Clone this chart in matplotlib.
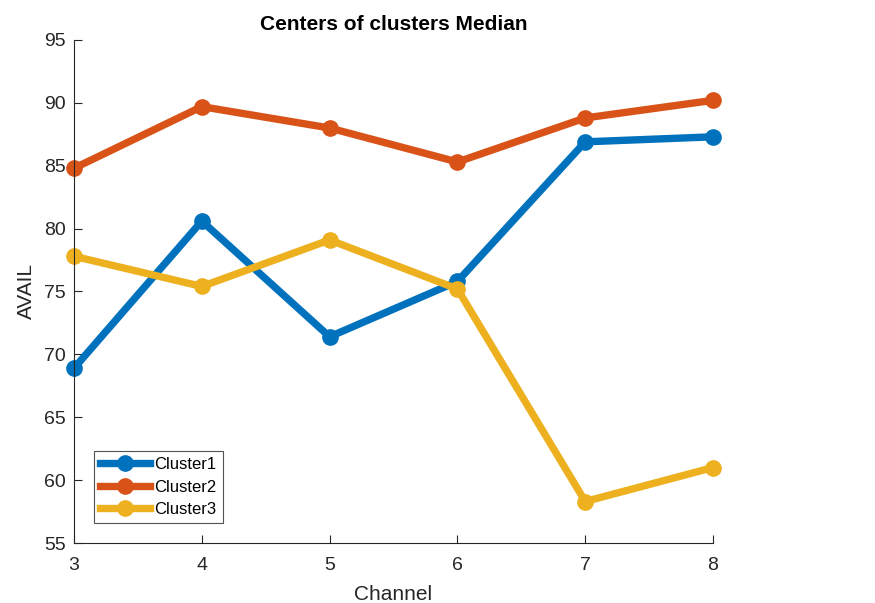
import matplotlib
matplotlib.use("Agg")
import matplotlib.pyplot as plt

channels = [3, 4, 5, 6, 7, 8]
cluster1 = [68.9, 80.6, 71.4, 75.8, 86.9, 87.3]
cluster2 = [84.8, 89.7, 88.0, 85.3, 88.8, 90.2]
cluster3 = [77.8, 75.4, 79.1, 75.2, 58.3, 61.0]
series_names = ["Cluster1", "Cluster2", "Cluster3"]
colors = ["#0072BD", "#D95319", "#EDB120"]
y_ticks = [55, 60, 65, 70, 75, 80, 85, 90, 95]

plt.rcParams["font.family"] = ["Liberation Sans", "DejaVu Sans"]

fig = plt.figure(figsize=(8.75, 6.03), dpi=100)
ax = fig.add_axes([0.0846, 0.0995, 0.7303, 0.8342])

for vals, name, c in zip([cluster1, cluster2, cluster3], series_names, colors):
    ax.plot(channels, vals, color=c, lw=5.3, marker="o", ms=11,
            markerfacecolor=c, markeredgecolor=c, label=name, clip_on=False)

ax.set_xlim(3, 8)
ax.set_ylim(55, 95)
ax.set_xticks(channels)
ax.set_yticks(y_ticks)
ax.spines["top"].set_visible(False)
ax.spines["right"].set_visible(False)
for s in ("left", "bottom"):
    ax.spines[s].set_color("#262626")
    ax.spines[s].set_linewidth(0.8)
ax.tick_params(direction="in", length=6, width=0.8, colors="#262626",
               labelsize=14)
ax.tick_params(axis="x", pad=10)
ax.tick_params(axis="y", pad=6)
ax.set_xlabel("Channel", fontsize=15, color="#262626", labelpad=8)
ax.set_ylabel("AVAIL", fontsize=15, color="#262626", labelpad=6)
ax.set_title("Centers of clusters Median", fontsize=15, fontweight="bold", pad=7)

leg = ax.legend(loc="lower left", bbox_to_anchor=(0.032, 0.04), fontsize=12,
                frameon=True, fancybox=False, edgecolor="#262626",
                handlelength=3.0, handletextpad=0.25, borderpad=0.35,
                labelspacing=0.45, borderaxespad=0)
leg.get_frame().set_linewidth(0.8)

fig.savefig("out.png", dpi=100)
